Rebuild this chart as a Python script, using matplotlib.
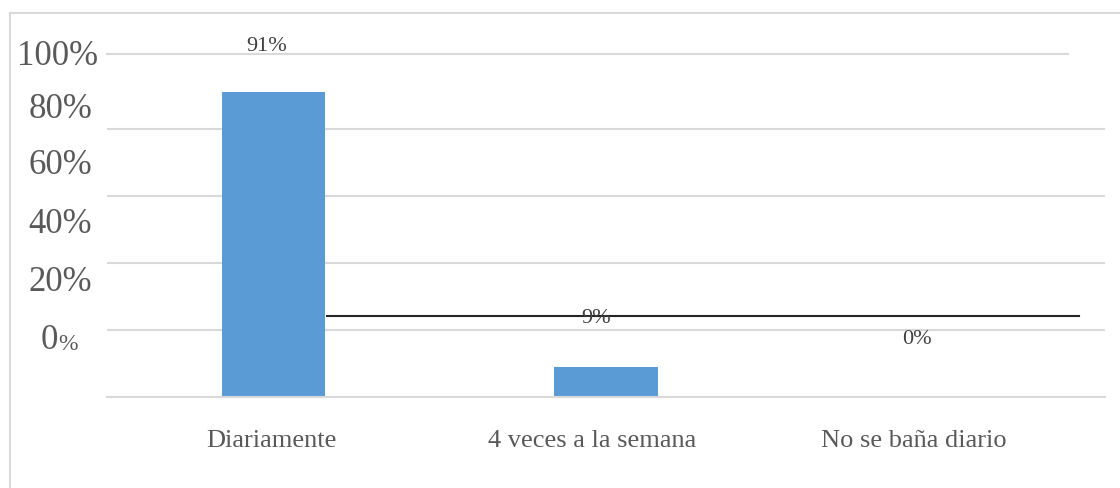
import matplotlib.pyplot as plt
from matplotlib.lines import Line2D

plt.rcParams['font.family'] = ['Liberation Serif', 'DejaVu Serif']

# Data
categories = ['Diariamente', '4 veces a la semana', 'No se baña diario']
values = [0.91, 0.09, 0.0]
value_labels = ['91%', '9%', '0%']

# Overlaid y labels (they do not sit on the gridlines in the original)
ytick_labels = ['100%', '80%', '60%', '40%', '20%']
ytick_label_pos = [1.015, 0.857, 0.690, 0.516, 0.343]
ytick_label_x = [-0.009, -0.015, -0.015, -0.015, -0.015]
zero_label_pos = 0.170

# the text in the picture is shifted a bit from the bars
xlabel_pos = [-0.006, 0.958, 1.925]
label_x = [-0.021, 0.97, 1.935]
label_pos = [1.047, 0.235, 0.172]

# stray black line and shifted top gridline from the overlay
stray_line_y = 0.242
stray_line_x = [0.162, 2.423]
top_line_y = 1.024

text_color = '#595959'
grid_color = '#D9D9D9'
bar_color = '#5B9BD5'

fig = plt.figure(figsize=(11.2, 4.88), dpi=100)
ax = fig.add_axes([107 / 1120, 1 - 397 / 488, (1105 - 107) / 1120, (397 - 62) / 488])

x = range(len(categories))
ax.bar(x, values, width=0.31, color=bar_color, zorder=2)

ax.set_xlim(-0.5, len(categories) - 0.5)
ax.set_ylim(0, 1)
ax.set_yticks([0.2, 0.4, 0.6, 0.8])
ax.set_yticklabels([])
ax.grid(axis='y', color=grid_color, linewidth=1.5, zorder=0)
ax.tick_params(axis='y', length=0)
ax.tick_params(axis='x', length=0, pad=24, labelsize=19, labelcolor=text_color)
ax.set_xticks(xlabel_pos)
ax.set_xticklabels(categories)

for s in ['top', 'right', 'left']:
    ax.spines[s].set_visible(False)
ax.spines['bottom'].set_color(grid_color)
ax.spines['bottom'].set_linewidth(1.5)

# data labels
for lx, lab, y in zip(label_x, value_labels, label_pos):
    ax.text(lx, y, lab, ha='center', va='center', fontsize=16, color='#404040',
            zorder=4, clip_on=False)

# y labels
ytrans = ax.get_yaxis_transform()
for lab, y, lx in zip(ytick_labels, ytick_label_pos, ytick_label_x):
    ax.text(lx, y, lab, transform=ytrans, ha='right', va='center',
            fontsize=25, color=text_color, clip_on=False)
ax.text(-0.049, zero_label_pos, '0', transform=ytrans, ha='right', va='center',
        fontsize=25, color=text_color, clip_on=False)
ax.text(-0.049, zero_label_pos - 0.012, '%', transform=ytrans, ha='left', va='center',
        fontsize=17, color=text_color, clip_on=False)

# overlay lines
ax.plot(stray_line_x, [stray_line_y, stray_line_y], color='#262626', linewidth=1.5, zorder=3)
ax.plot([-0.5, 2.39], [top_line_y, top_line_y], color=grid_color, linewidth=1.5,
        clip_on=False, zorder=0)

# chart frame
fig.add_artist(Line2D([10 / 1120, 1], [1 - 13 / 488] * 2, color=grid_color, linewidth=1.5))
fig.add_artist(Line2D([10 / 1120] * 2, [0, 1 - 13 / 488], color=grid_color, linewidth=1.5))

fig.savefig('out.png', dpi=100)
